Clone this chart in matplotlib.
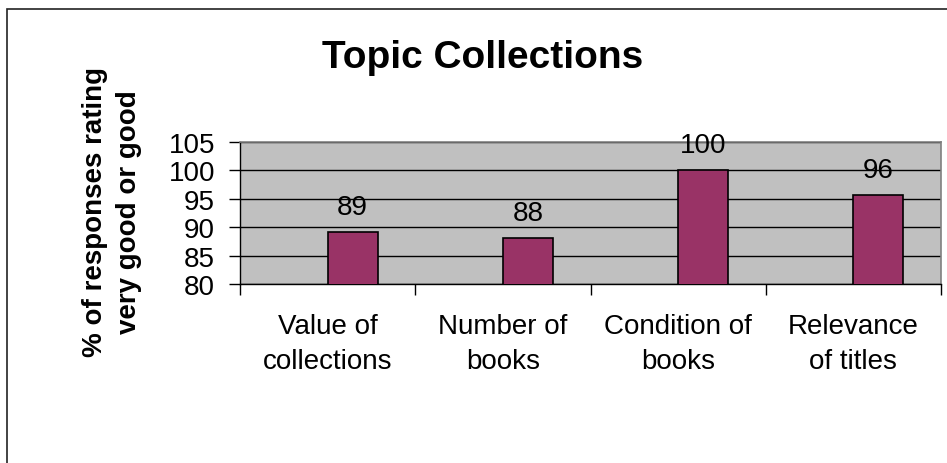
import numpy as np
import matplotlib
matplotlib.use('Agg')
import matplotlib.pyplot as plt
from matplotlib.patches import Rectangle

plt.rcParams['font.family'] = ['Liberation Sans', 'DejaVu Sans']

# data
categories = ['Value of\ncollections', 'Number of\nbooks', 'Condition of\nbooks', 'Relevance\nof titles']
values = [89.2, 88.1, 100.0, 95.7]
yticks = [80, 85, 90, 95, 100, 105]

W, H = 947, 464
fig = plt.figure(figsize=(W / 100, H / 100), dpi=100)

# outer chart border (runs off the right and bottom edges)
fig.patches.append(Rectangle((7 / W, -0.1), 1.1, 1 - 10 / H + 0.1, transform=fig.transFigure,
                             fill=False, edgecolor='#222222', linewidth=1.2))

ax = fig.add_axes([240 / W, 1 - 285 / H, 701 / W, 142 / H])
ax.set_facecolor('#C0C0C0')

x = np.arange(len(categories))
ax.bar(x, values, width=0.286, align='edge', color='#993366', edgecolor='black',
       linewidth=1.2, zorder=3)
for xi, v in zip(x, values):
    ax.annotate('%.0f' % v, (xi + 0.143, v), xytext=(0, 13), textcoords='offset points',
                ha='center', va='baseline', fontsize=20, zorder=4)

ax.set_ylim(80, 105)
ax.set_xlim(-0.5, len(categories) - 0.5)
ax.set_yticks(yticks)
ax.set_yticklabels([str(t) for t in yticks], fontsize=20)
ax.tick_params(axis='y', direction='out', length=8, width=1, pad=10)

ax.set_xticks(np.arange(-0.5, len(categories)))
ax.set_xticklabels([])
ax.set_xticks(x, minor=True)
ax.set_xticklabels(categories, minor=True, fontsize=20, linespacing=1.45)
ax.tick_params(axis='x', which='major', direction='out', length=8, width=1)
ax.tick_params(axis='x', which='minor', length=0, pad=21)

ax.yaxis.grid(True, color='black', linewidth=1, zorder=1)
ax.set_axisbelow(True)
for s in ['top', 'right']:
    ax.spines[s].set_color('#808080')
    ax.spines[s].set_linewidth(1.2)
for s in ['left', 'bottom']:
    ax.spines[s].set_color('black')
    ax.spines[s].set_linewidth(1)

fig.text(483 / W, 1 - 68 / H, 'Topic Collections', fontsize=28, fontweight='bold',
         ha='center', va='baseline')
fig.text(112 / W, 1 - 212 / H, '% of responses rating\nvery good or good', fontsize=20,
         fontweight='bold', rotation=90, ha='center', va='center', multialignment='center',
         linespacing=1.45)

plt.savefig('out.png', dpi=100)
